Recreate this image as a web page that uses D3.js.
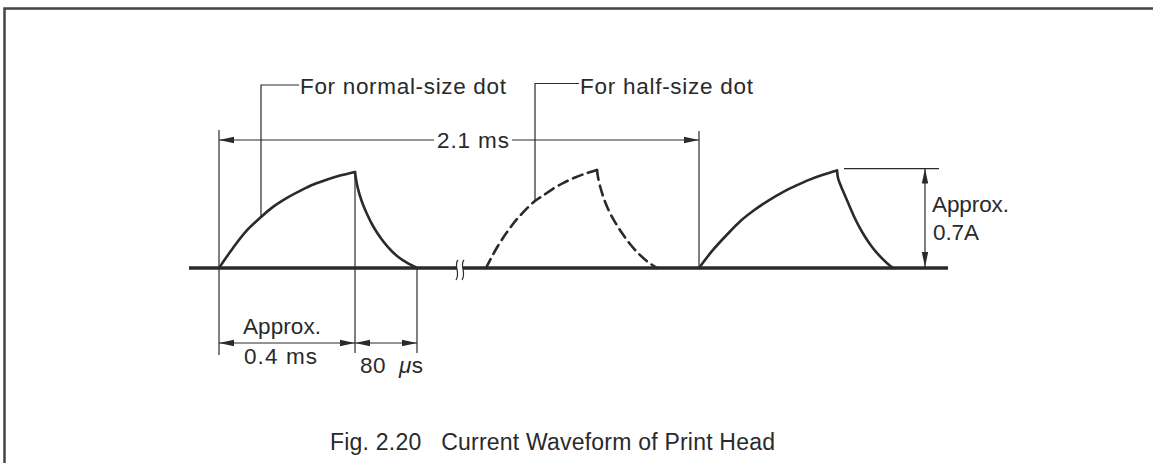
<!DOCTYPE html>
<html>
<head>
<meta charset="utf-8">
<script src="https://cdn.jsdelivr.net/npm/d3@7"></script>
<style>
  html, body { margin: 0; padding: 0; background: #fff; }
  svg { display: block; }
  text { white-space: pre; }
</style>
</head>
<body>
<script>
// pulse shapes: [position along the time axis (0..759), current in mA]
var pulse1Rise = [[30, 0], [44, 142], [57, 259], [72, 360], [84, 432], [98, 496], [112, 549], [125, 592], [139, 627], [152, 655], [166, 679]];
var pulse1Fall = [[166, 679], [167, 629], [169, 559], [173, 467], [178, 382], [184, 297], [191, 219], [199, 148], [208, 85], [217, 42], [228, 0]];
var pulse2Rise = [[297, 0], [308, 145], [319, 264], [330, 362], [346, 474], [353, 507], [364, 560], [375, 604], [386, 640], [397, 669], [408, 693]];
var pulse2Fall = [[408, 693], [409, 643], [411, 580], [415, 488], [420, 403], [426, 325], [433, 247], [441, 170], [450, 99], [459, 42], [468, 0]];
var pulse3Rise = [[510, 0], [524, 128], [538, 236], [551, 329], [565, 408], [579, 475], [593, 533], [607, 582], [620, 623], [634, 659], [648, 689]];
var pulse3Fall = [[648, 689], [649.1, 634], [650.8, 599], [653.6, 551], [659.2, 459], [664.8, 368], [670.4, 289], [676, 221], [681.6, 163], [687.2, 112], [692.8, 70], [698.4, 32], [704, 0]];
var breakAt = 271;

var leaderLabels = ["For normal-size dot", "For half-size dot"];
var periodLabel = "2.1 ms";
var ampLabels = ["Approx.", "0.7A"];
var onLabels = ["Approx.", "0.4 ms"];
var offLabel = ["80  ", "\u03bc", "s"];
var title = "Fig. 2.20   Current Waveform of Print Head";

var width = 1153, height = 463;
var ink = "#2a2a2a";
var font = "'Liberation Sans', Arial, Helvetica, sans-serif";

var x = d3.scaleLinear().domain([0, 759]).range([189, 948]);
var y = d3.scaleLinear().domain([0, 700]).range([268, 169]);

var svg = d3.select("body").append("svg")
    .attr("width", width)
    .attr("height", height)
    .attr("viewBox", [0, 0, width, height]);

// frame (only top and left edges show in the scan)
svg.append("path")
    .attr("d", "M4.5,463 V8.5 H1153")
    .attr("fill", "none")
    .attr("stroke", "#444")
    .attr("stroke-width", 2.5);

var thin = svg.append("g")
    .attr("stroke", ink)
    .attr("stroke-width", 1.2)
    .attr("fill", "none");

function vline(px, y0, y1) {
    thin.append("line").attr("x1", px).attr("x2", px).attr("y1", y0).attr("y2", y1);
}
function hline(py, x0, x1) {
    thin.append("line").attr("x1", x0).attr("x2", x1).attr("y1", py).attr("y2", py);
}
// filled arrow head, tip at (tx,ty), pointing in direction (dx,dy)
function arrow(tx, ty, dx, dy) {
    var len = 15, hw = 3.2;
    var bx = tx - dx * len, by = ty - dy * len;
    var px = -dy * hw, py = dx * hw;
    svg.append("path")
        .attr("d", "M" + tx + "," + ty + "L" + (bx + px) + "," + (by + py) + "L" + (bx - px) + "," + (by - py) + "Z")
        .attr("fill", ink);
}
function label(txt, lx, ly, len, size) {
    return svg.append("text")
        .attr("x", lx)
        .attr("y", ly)
        .attr("textLength", len)
        .attr("lengthAdjust", "spacing")
        .attr("font-family", font)
        .attr("font-size", size || 22.5)
        .attr("fill", ink)
        .text(txt);
}

var line = d3.line()
    .x(d => x(d[0]))
    .y(d => y(d[1]))
    .curve(d3.curveCatmullRom.alpha(0.5));

var p1Start = x(pulse1Rise[0][0]);
var p1Peak = x(pulse1Fall[0][0]);
var p1End = x(pulse1Fall[pulse1Fall.length - 1][0]);
var p3Start = x(pulse3Rise[0][0]);
var p3Peak = pulse3Fall[0];

// extension lines
vline(p1Start, 130, 355);
vline(p1Peak, y(pulse1Fall[0][1]), 353);
vline(p1End, y(0), 353);
vline(p3Start, 131, y(0));

// baseline
svg.append("line")
    .attr("x1", x(0)).attr("x2", x(759))
    .attr("y1", y(0)).attr("y2", y(0))
    .attr("stroke", ink)
    .attr("stroke-width", 3.5);

// break mark on the baseline
var bx = x(breakAt);
svg.append("rect")
    .attr("x", bx - 3).attr("y", y(0) - 3)
    .attr("width", 6).attr("height", 6)
    .attr("fill", "#fff");
[-3, 3].forEach(function(o) {
    svg.append("path")
        .attr("d", "M" + (bx + o + 1) + "," + (y(0) - 8) + "C" + (bx + o - 4) + "," + (y(0) - 2) + " " + (bx + o + 4) + "," + (y(0) + 4) + " " + (bx + o - 1) + "," + (y(0) + 12))
        .attr("fill", "none")
        .attr("stroke", ink)
        .attr("stroke-width", 1.2);
});

// pulses
var pulses = [
    [pulse1Rise, false], [pulse1Fall, false],
    [pulse2Rise, true], [pulse2Fall, true],
    [pulse3Rise, false], [pulse3Fall, false]
];
svg.append("g").selectAll("path")
    .data(pulses)
    .join("path")
    .attr("d", d => line(d[0]))
    .attr("fill", "none")
    .attr("stroke", ink)
    .attr("stroke-width", 2.6)
    .attr("stroke-linecap", "round")
    .attr("stroke-dasharray", d => d[1] ? "10,6" : null);

// leaders
var lead1 = pulse1Rise[3], lead2 = pulse2Rise[4];
thin.append("path").attr("d", "M" + x(lead1[0]) + "," + y(lead1[1]) + "V85H299");
thin.append("path").attr("d", "M" + x(lead2[0]) + "," + y(lead2[1]) + "V83.5H579");
label(leaderLabels[0], 300, 94, 206);
label(leaderLabels[1], 580, 94, 173);

// 2.1 ms period
hline(140, p1Start, 434);
hline(140, 512, p3Start);
arrow(p1Start, 140, -1, 0);
arrow(p3Start, 140, 1, 0);
label(periodLabel, 437, 148, 72);

// amplitude
var ampX = 925;
hline(y(p3Peak[1]) - 2, x(p3Peak[0]) + 7, 939);
vline(ampX, y(p3Peak[1]) - 2, y(0) - 1);
arrow(ampX, y(p3Peak[1]) - 2, 0, -1);
arrow(ampX, y(0) - 1, 0, 1);
label(ampLabels[0], 932, 212, 77);
label(ampLabels[1], 933, 239.5, 46);

// on time / off time
var dimY = 343;
hline(dimY, p1Start, p1End);
arrow(p1Start, dimY, -1, 0);
arrow(p1Peak, dimY, 1, 0);
arrow(p1Peak, dimY, -1, 0);
arrow(p1End, dimY, 1, 0);
label(onLabels[0], 243, 334, 78);
label(onLabels[1], 244, 364, 73);
var off = label("", 360, 373, 63);
off.append("tspan").text(offLabel[0]);
off.append("tspan").attr("font-style", "italic").text(offLabel[1]);
off.append("tspan").text(offLabel[2]);

// caption
label(title, 330, 450, 445, 23);
</script>
</body>
</html>
